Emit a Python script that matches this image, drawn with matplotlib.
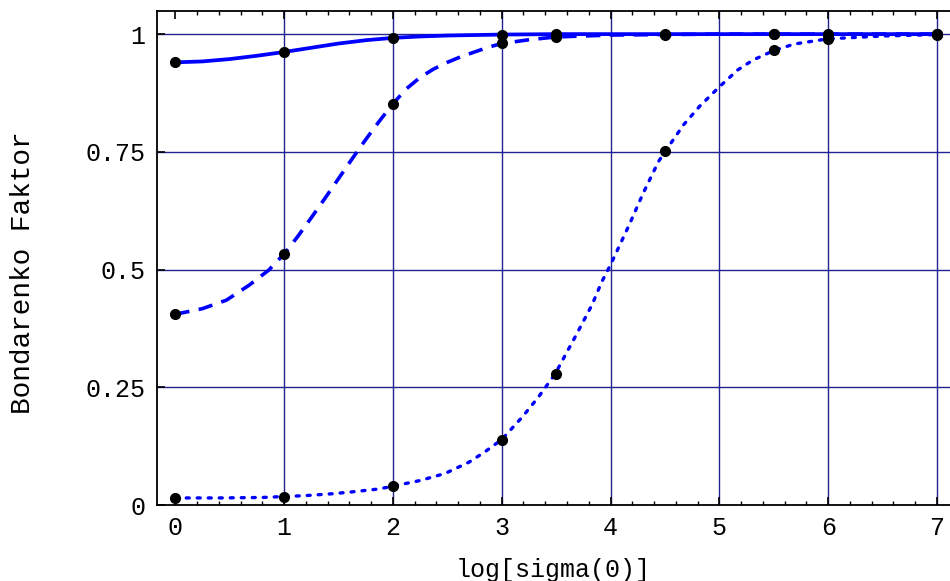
import matplotlib
matplotlib.use("Agg")
import matplotlib.pyplot as plt
from matplotlib.ticker import MultipleLocator

# sample points (dots)
x_pts = [0, 1, 2, 3, 3.5, 4.5, 5.5, 6, 7]
solid_pts = [0.940, 0.962, 0.992, 0.999, 1.0, 1.0, 1.0, 1.0, 1.0]
dashed_pts = [0.405, 0.534, 0.852, 0.981, 0.994, 0.999, 1.0, 0.999, 1.0]
dotted_pts = [0.015, 0.018, 0.040, 0.139, 0.279, 0.752, 0.966, 0.989, 0.999]

# curves
solid_x = [0, 0.25, 0.5, 0.75, 1.0, 1.25, 1.5, 1.75, 2.0, 2.25, 2.5, 3.0, 3.5, 4.0, 5.0, 6.0, 7.0]
solid_y = [0.940, 0.942, 0.947, 0.954, 0.962, 0.971, 0.980, 0.987, 0.992, 0.995, 0.997, 0.999,
           1.0, 1.0, 1.0, 1.0, 1.0]

dashed_x = [0, 0.25, 0.47, 0.68, 0.86, 1.0, 1.125, 1.25, 1.375, 1.5, 1.625, 1.75, 1.875, 2.0,
            2.125, 2.25, 2.375, 2.5, 2.625, 2.75, 2.875, 3.0, 3.25, 3.5, 4.0, 4.5, 5.0, 6.0, 7.0]
dashed_y = [0.405, 0.417, 0.435, 0.467, 0.499, 0.533, 0.570, 0.610, 0.651, 0.693, 0.735, 0.776,
            0.815, 0.852, 0.884, 0.908, 0.926, 0.940, 0.952, 0.962, 0.972, 0.980, 0.988, 0.994,
            0.998, 0.999, 1.0, 1.0, 1.0]

dotted_x = [0, 0.4, 0.8, 1.0, 1.2, 1.45, 1.63, 1.87, 2.0, 2.25, 2.48, 2.7, 2.84, 3.0,
            3.19, 3.34, 3.49, 3.68, 3.83, 3.92, 4.0, 4.17, 4.3, 4.44, 4.5, 4.67, 4.82,
            5.0, 5.17, 5.31, 5.5, 5.69, 6.0, 6.5, 7.0]
dotted_y = [0.015, 0.015, 0.016, 0.018, 0.020, 0.024, 0.028, 0.034, 0.040, 0.052, 0.067, 0.091, 0.112, 0.139,
            0.187, 0.230, 0.278, 0.359, 0.425, 0.474, 0.510, 0.594, 0.662, 0.729, 0.750, 0.807, 0.847,
            0.888, 0.924, 0.945, 0.965, 0.979, 0.990, 0.996, 0.999]

x_ticks = [0, 1, 2, 3, 4, 5, 6, 7]
y_ticks = [0, 0.25, 0.5, 0.75, 1]
y_labels = ["0", "0.25", "0.5", "0.75", "1"]

plt.rcParams["font.family"] = ["Liberation Mono", "DejaVu Sans Mono"]

fig = plt.figure(figsize=(9.5, 5.81), dpi=100)
ax = fig.add_axes([0.165, 0.1308, 0.835, 0.8502])

grid_c = "#23238f"
for gx in x_ticks[1:]:
    ax.axvline(gx, color=grid_c, lw=1.0, zorder=1)
for gy in y_ticks[1:]:
    ax.axhline(gy, color=grid_c, lw=1.0, zorder=1)

blue = "#0000ff"
ax.plot(solid_x, solid_y, "-", color=blue, lw=2.7, zorder=3)
ax.plot(dashed_x, dashed_y, color=blue, lw=2.6, dashes=(4, 2.6), zorder=3)
ax.plot(dotted_x, dotted_y, color=blue, lw=2.4, dashes=(0.9, 2.4), zorder=3,
        dash_capstyle="round")

for ys in (solid_pts, dashed_pts, dotted_pts):
    ax.plot(x_pts, ys, "o", color="black", ms=7, zorder=4, clip_on=False)

ax.set_xlim(-0.17, 7.12)
ax.set_ylim(0, 1.049)

ax.spines["right"].set_visible(False)
for s in ("left", "bottom", "top"):
    ax.spines[s].set_linewidth(1.3)

ax.set_xticks(x_ticks)
ax.set_yticks(y_ticks)
ax.set_yticklabels(y_labels)
ax.xaxis.set_minor_locator(MultipleLocator(0.2))
ax.tick_params(axis="both", which="major", direction="in", length=6, width=1.2,
               labelsize=18, pad=8)
ax.tick_params(axis="x", which="both", top=True)
ax.tick_params(axis="x", which="minor", direction="in", length=3, width=1)
ax.tick_params(axis="y", which="both", right=False)

ax.set_xlabel("log[sigma(0)]", fontsize=18, labelpad=13)
ax.set_ylabel("Bondarenko Faktor", fontsize=20, labelpad=36)
ax.yaxis.label.set_y(0.47)

fig.savefig("out.png", dpi=100)
